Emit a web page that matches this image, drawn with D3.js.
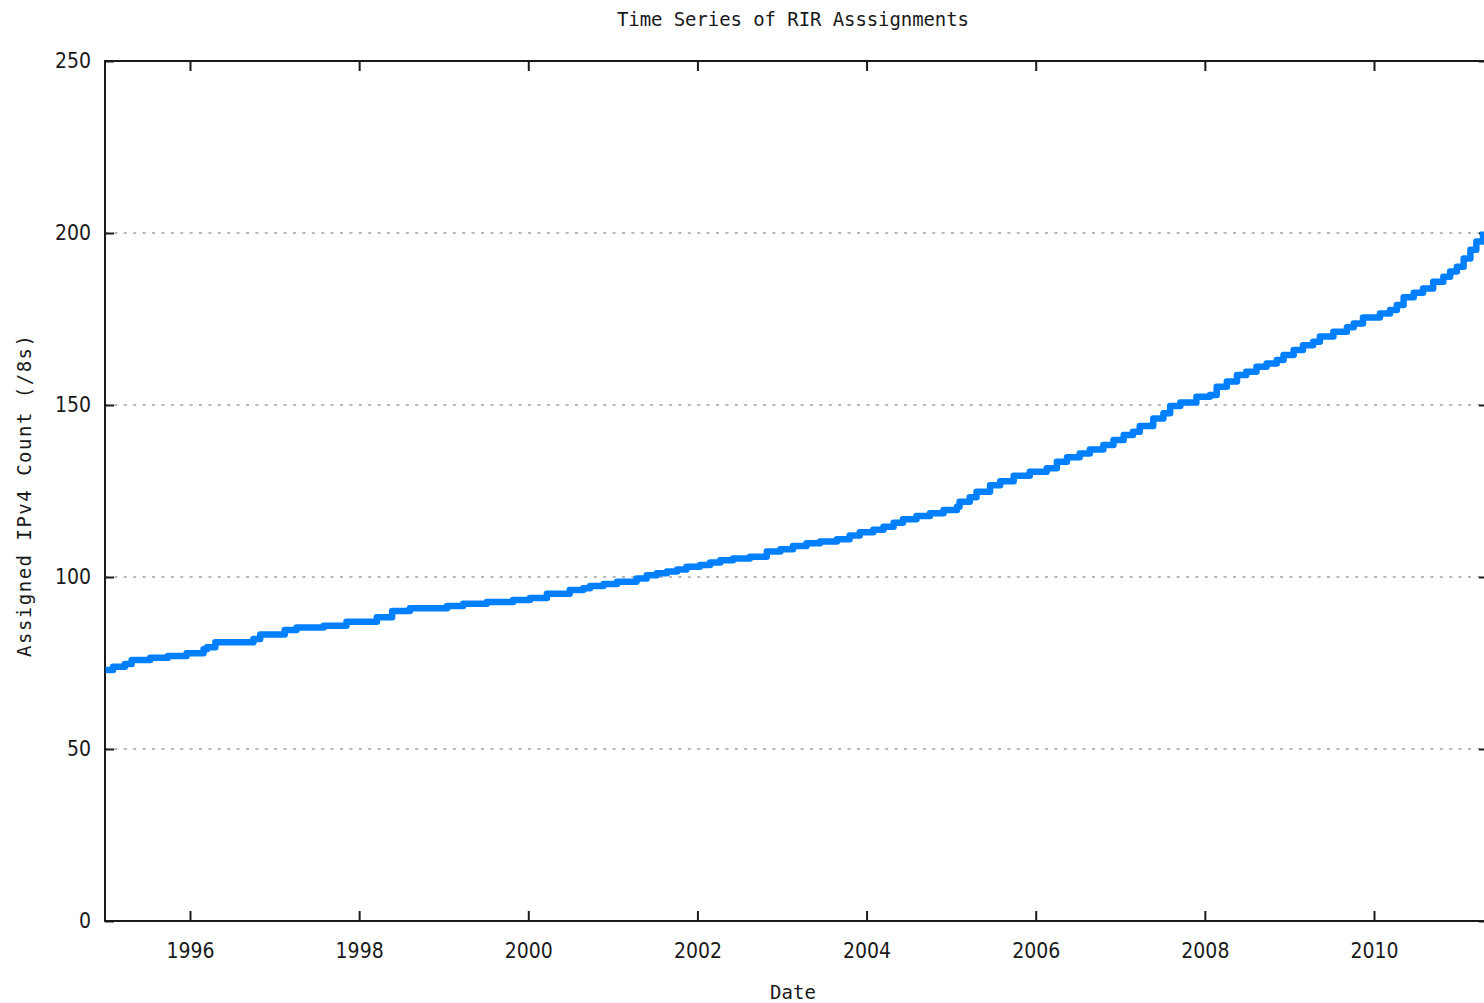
<!DOCTYPE html>
<html><head><meta charset="utf-8">
<script src="https://cdn.jsdelivr.net/npm/d3@7"></script>
<style>body{margin:0;background:#fff;overflow:hidden}</style>
</head><body><svg id="c" width="1484" height="1003"></svg>
<script>
// Decimal-year dates of each reading and cumulative assigned /8 count
const years = [1995.00,1995.09,1995.23,1995.31,1995.53,1995.74,1995.96,1996.16,1996.20,1996.30,
  1996.75,1996.83,1997.12,1997.26,1997.58,1997.85,1998.21,1998.39,1998.60,1999.04,
  1999.23,1999.51,1999.82,2000.02,2000.22,2000.49,2000.65,2000.73,2000.89,2001.05,
  2001.28,2001.40,2001.52,2001.64,2001.76,2001.87,2002.03,2002.15,2002.27,2002.42,
  2002.62,2002.82,2002.98,2003.13,2003.29,2003.45,2003.65,2003.80,2003.92,2004.08,
  2004.20,2004.32,2004.43,2004.59,2004.75,2004.91,2005.07,2005.10,2005.22,2005.30,
  2005.46,2005.58,2005.74,2005.93,2006.13,2006.25,2006.37,2006.52,2006.64,2006.80,
  2006.92,2007.04,2007.15,2007.23,2007.39,2007.51,2007.59,2007.71,2007.90,2008.06,
  2008.14,2008.26,2008.38,2008.49,2008.61,2008.73,2008.85,2008.93,2009.05,2009.16,
  2009.28,2009.36,2009.52,2009.68,2009.76,2009.87,2010.07,2010.19,2010.27,2010.35,
  2010.47,2010.58,2010.70,2010.82,2010.90,2010.98,2011.06,2011.14,2011.21,2011.29];
const counts = [73.0,73.9,74.7,75.9,76.5,77.0,77.8,79.0,79.6,81.0,
  82.0,83.3,84.6,85.3,85.8,87.0,88.3,90.1,90.9,91.6,
  92.2,92.7,93.3,93.9,95.1,96.2,96.7,97.4,98.0,98.6,
  99.6,100.5,101.1,101.6,102.2,103.0,103.5,104.2,104.9,105.4,
  105.9,107.4,108.1,109.0,109.8,110.3,111.0,112.1,113.0,113.7,
  114.6,115.8,116.8,117.7,118.5,119.5,120.4,121.9,123.2,124.8,
  126.7,127.8,129.4,130.6,131.6,133.5,134.8,135.9,137.1,138.4,
  139.8,141.3,142.2,143.9,146.1,147.6,149.7,150.7,152.4,152.9,
  155.3,156.8,158.7,159.7,161.1,162.1,163.1,164.5,166.0,167.4,
  168.4,169.9,171.3,172.6,173.7,175.4,176.6,177.6,179.1,181.3,
  182.6,183.9,185.8,187.3,188.8,190.2,192.6,195.1,197.5,200.4];
const yTicks = [0,50,100,150,200,250];
const gridValues = [50,100,150,200];
const xTicks = [1996,1998,2000,2002,2004,2006,2008,2010];
const titleText = "Time Series of RIR Asssignments";
const xLabelText = "Date";
const yLabelText = "Assigned IPv4 Count (/8s)";

const svg = d3.select("#c");
const L = 105, T = 61, R = 1488, B = 921;
const x = d3.scaleLinear().domain([1994.995, 2011.348]).range([L, R]);
const y = d3.scaleLinear().domain([0, 250]).range([B, T]);
const tickFont = "'DejaVu Sans Condensed','Liberation Sans Narrow',sans-serif";
const monoFont = "'DejaVu Sans Mono',monospace";

// grid
svg.append("g").selectAll("line").data(gridValues).join("line")
  .attr("x1", L).attr("x2", R)
  .attr("y1", d => y(d)).attr("y2", d => y(d))
  .attr("stroke", "#a0a0a0").attr("stroke-width", 1.6)
  .attr("stroke-dasharray", "3,6.4");

function styleAxis(g, labels) {
  g.select(".domain").remove();
  g.selectAll(".tick line").attr("stroke", "#1a1a1a").attr("stroke-width", 2);
  if (!labels) g.selectAll(".tick text").remove();
  else g.selectAll(".tick text").attr("fill", "#1a1a1a")
    .style("font-family", tickFont).style("font-size", "21px");
}

svg.append("g").attr("transform", `translate(0,${B})`)
  .call(d3.axisBottom(x).tickValues(xTicks).tickFormat(d3.format("d")).tickSizeInner(-10).tickSizeOuter(0).tickPadding(22))
  .call(g => styleAxis(g, true));
svg.append("g").attr("transform", `translate(0,${T})`)
  .call(d3.axisTop(x).tickValues(xTicks).tickSizeInner(-10).tickSizeOuter(0))
  .call(g => styleAxis(g, false));
svg.append("g").attr("transform", `translate(${L},0)`)
  .call(d3.axisLeft(y).tickValues(yTicks).tickSizeInner(-9).tickSizeOuter(0).tickPadding(14))
  .call(g => styleAxis(g, true));
svg.append("g").attr("transform", `translate(${R},0)`)
  .call(d3.axisRight(y).tickValues(yTicks).tickSizeInner(-9).tickSizeOuter(0))
  .call(g => styleAxis(g, false));

// frame
svg.append("rect").attr("x", L).attr("y", T).attr("width", R - L).attr("height", B - T)
  .attr("fill", "none").attr("stroke", "#1a1a1a").attr("stroke-width", 2);

// data line
const data = years.map((yr, i) => ({yr, v: counts[i]}));
svg.append("path").datum(data)
  .attr("fill", "none").attr("stroke", "#0080ff").attr("stroke-width", 6.5)
  .attr("stroke-linejoin", "round")
  .attr("d", d3.line().x(d => x(d.yr)).y(d => y(d.v)).curve(d3.curveStepAfter));

// titles
svg.append("text").attr("x", 793).attr("y", 26).attr("text-anchor", "middle")
  .attr("textLength", 352).attr("lengthAdjust", "spacing")
  .style("font-family", monoFont).style("font-size", "19px").attr("fill", "#1a1a1a")
  .text(titleText);
svg.append("text").attr("x", 793).attr("y", 999).attr("text-anchor", "middle")
  .style("font-family", monoFont).style("font-size", "19px").attr("fill", "#1a1a1a")
  .text(xLabelText);
svg.append("text").attr("transform", "translate(31,496) rotate(-90)").attr("text-anchor", "middle")
  .attr("textLength", 322).attr("lengthAdjust", "spacing")
  .style("font-family", monoFont).style("font-size", "19px").attr("fill", "#1a1a1a")
  .text(yLabelText);
</script></body></html>
